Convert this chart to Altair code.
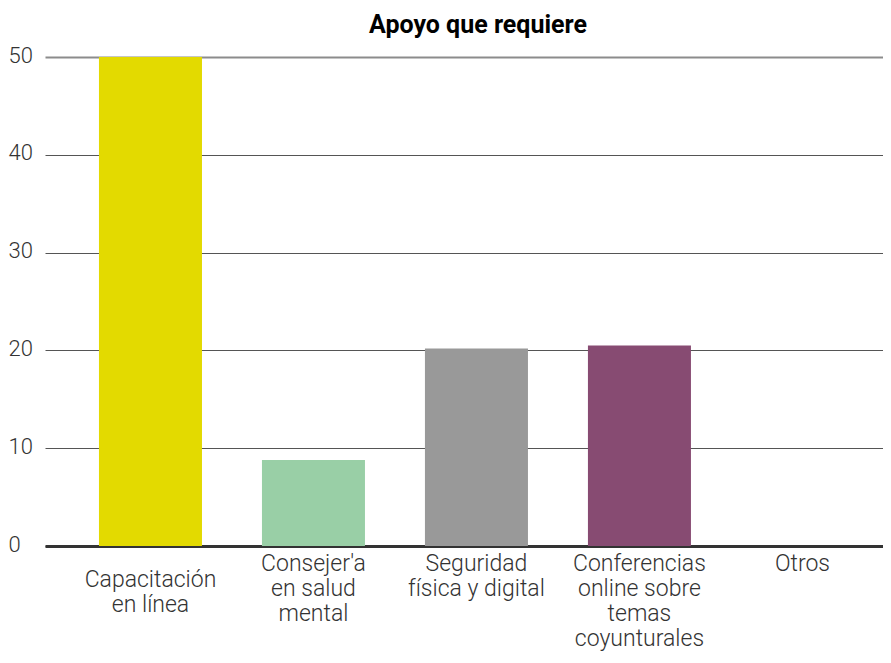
import altair as alt
import pandas as pd

categories = [
    "Capacitación\nen línea",
    "Consejer'a\nen salud\nmental",
    "Seguridad\nfísica y digital",
    "Conferencias\nonline sobre\ntemas\ncoyunturales",
    "Otros",
]
values = [50.0, 8.8, 20.2, 20.5, 0.0]
colors = ["#E3DA00", "#99CFA6", "#999999", "#874B72", "#FFFFFF"]

df = pd.DataFrame({"cat": categories, "val": values, "col": colors})

FONT = "Roboto"

chart = (
    alt.Chart(df)
    .mark_bar()
    .encode(
        x=alt.X(
            "cat:N",
            sort=categories,
            title=None,
            scale=alt.Scale(paddingInner=0.368, paddingOuter=0.2547, align=0.65),
            axis=alt.Axis(
                labelExpr="split(datum.label, '\\n')",
                labelAngle=0,
                labelFont=FONT,
                labelFontSize=23,
                labelFontWeight=300,
                labelColor="#333333",
                labelLineHeight=25,
                labelBaseline="top",
                labelPadding=alt.condition(
                    "indexof(datum.value, 'Capacitaci') == 0", alt.value(22), alt.value(6)
                ),
                ticks=False,
                domainColor="#333333",
                domainWidth=3,
                grid=False,
            ),
        ),
        y=alt.Y(
            "val:Q",
            title=None,
            scale=alt.Scale(domain=[0, 50], nice=False),
            axis=alt.Axis(
                values=[0, 10, 20, 30, 40, 50],
                labelFont=FONT,
                labelFontSize=22,
                labelFontWeight=300,
                labelColor="#333333",
                labelAlign="left",
                labelBaseline="middle",
                labelOffset=-2,
                labelPadding=37,
                ticks=False,
                domain=False,
                grid=True,
                gridColor=alt.condition("datum.value == 50", alt.value("#8C8C8C"), alt.value("#555555")),
                gridWidth=alt.condition("datum.value == 50", alt.value(2), alt.value(1)),
            ),
        ),
        color=alt.Color("col:N", scale=None, legend=None),
    )
    .properties(
        width=838,
        height=489,
        title=alt.TitleParams(
            "Apoyo que requiere",
            font=FONT,
            fontSize=25,
            fontWeight="bold",
            color="#000000",
            anchor="middle",
            frame="group",
            dx=14,
            offset=6,
        ),
        autosize=alt.AutoSizeParams(type="none"),
        padding={"left": 37, "top": 49, "right": 0, "bottom": 106},
    )
    .configure_view(stroke=None)
)

chart.save("out.html", embed_options={"renderer": "svg", "actions": False})
